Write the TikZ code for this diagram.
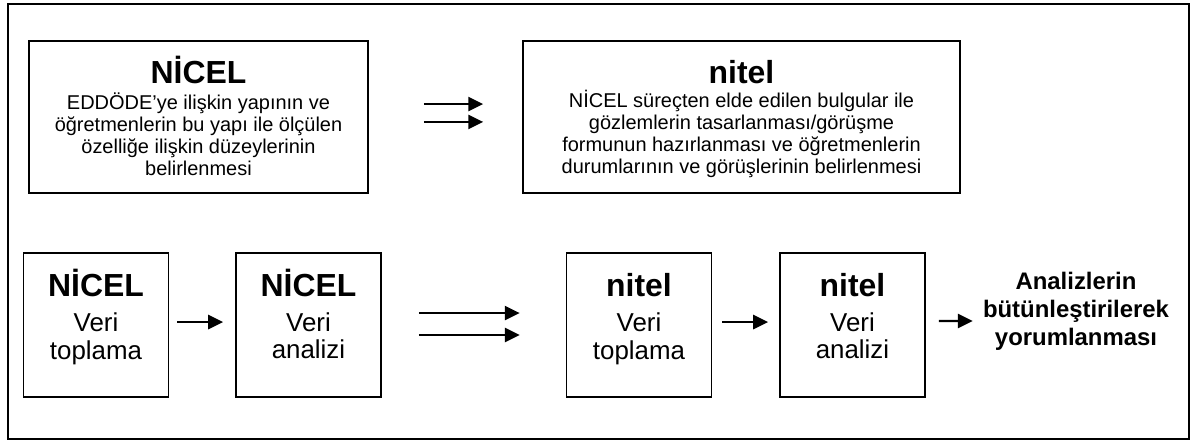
\documentclass[tikz,border=0pt]{standalone}
\usepackage{fontspec}
\setmainfont{Liberation Sans}
\usetikzlibrary{arrows.meta}

\begin{document}
\begin{tikzpicture}[x=0.025cm,y=-0.025cm,
    kutu/.style={draw,line width=1.3pt,inner sep=0pt},
    baslik/.style={font=\fontsize{22.7}{26}\selectfont\bfseries,inner sep=0pt,anchor=base},
    metin/.style={font=\fontsize{14.2}{15.6}\selectfont,align=center,inner sep=0pt},
    altmetin/.style={font=\fontsize{18.4}{19.8}\selectfont,align=center,inner sep=0pt},
    ok/.style={line width=1.7pt,-{Triangle[length=10.6pt,width=10pt]}}]
        \useasboundingbox (0,0) rectangle (1195,441);

        % Outer frame
        \draw[line width=1.7pt] (8,4) rectangle (1189,439);

        % Upper row
        \node[kutu,minimum width=8.475cm,minimum height=3.8cm] (ust1) at (198.5,117) {};
        \node[baslik] (ust1b) at (198.5,83.5) {NİCEL};
        \node[metin] (ust1m) at (198.5,134) {EDDÖDE’ye ilişkin yapının ve\\öğretmenlerin bu yapı ile ölçülen\\özelliğe ilişkin düzeylerinin\\belirlenmesi};

        \node[kutu,minimum width=10.925cm,minimum height=3.8cm] (ust2) at (741.5,117) {};
        \node[baslik] (ust2b) at (741.5,83.5) {nitel};
        \node[metin] (ust2m) at (741.5,134) {NİCEL süreçten elde edilen bulgular ile\\gözlemlerin tasarlanması/görüşme\\formunun hazırlanması ve öğretmenlerin\\durumlarının ve görüşlerinin belirlenmesi};

        \draw[ok,shorten <=39pt,shorten >=27.6pt] ([yshift=9.2pt]ust1.east) -- ([yshift=9.2pt]ust2.west);
        \draw[ok,shorten <=39pt,shorten >=27.6pt] ([yshift=-3.5pt]ust1.east) -- ([yshift=-3.5pt]ust2.west);

        % Lower row
        \foreach \x/\ad/\ust/\alt/\dy in {96/alt1/NİCEL/toplama/338.5, 308.5/alt2/NİCEL/analizi/335.7,
                                          639/alt3/nitel/toplama/338.5, 852.5/alt4/nitel/analizi/335.7} {
            \node[kutu,minimum width=3.625cm,minimum height=3.6cm] (\ad) at (\x,325) {};
            \node[baslik] (\ad b) at (\x,296.5) {\ust};
            \node[altmetin] (\ad m) at (\x,\dy) {Veri\\\alt};
        }

        % Result
        \node[font=\fontsize{17}{19.8}\selectfont\bfseries,align=center,inner sep=0pt] (sonuc) at (1076,311) {Analizlerin\\bütünleştirilerek\\yorumlanması};

        \draw[ok,shorten <=5.7pt,shorten >=8.5pt] ([yshift=2.1pt]alt1.east) -- ([yshift=2.1pt]alt2.west);
        \draw[ok,shorten <=26.2pt,shorten >=32.6pt] ([yshift=8.5pt]alt2.east) -- ([yshift=8.5pt]alt3.west);
        \draw[ok,shorten <=26.2pt,shorten >=32.6pt] ([yshift=-7.1pt]alt2.east) -- ([yshift=-7.1pt]alt3.west);
        \draw[ok,shorten <=7.1pt,shorten >=7.8pt] ([yshift=2.1pt]alt3.east) -- ([yshift=2.1pt]alt4.west);
        \draw[ok,shorten <=9.2pt,shorten >=7.1pt] ([yshift=2.8pt]alt4.east) -- ([yshift=-7.1pt]sonuc.west);
\end{tikzpicture}
\end{document}
